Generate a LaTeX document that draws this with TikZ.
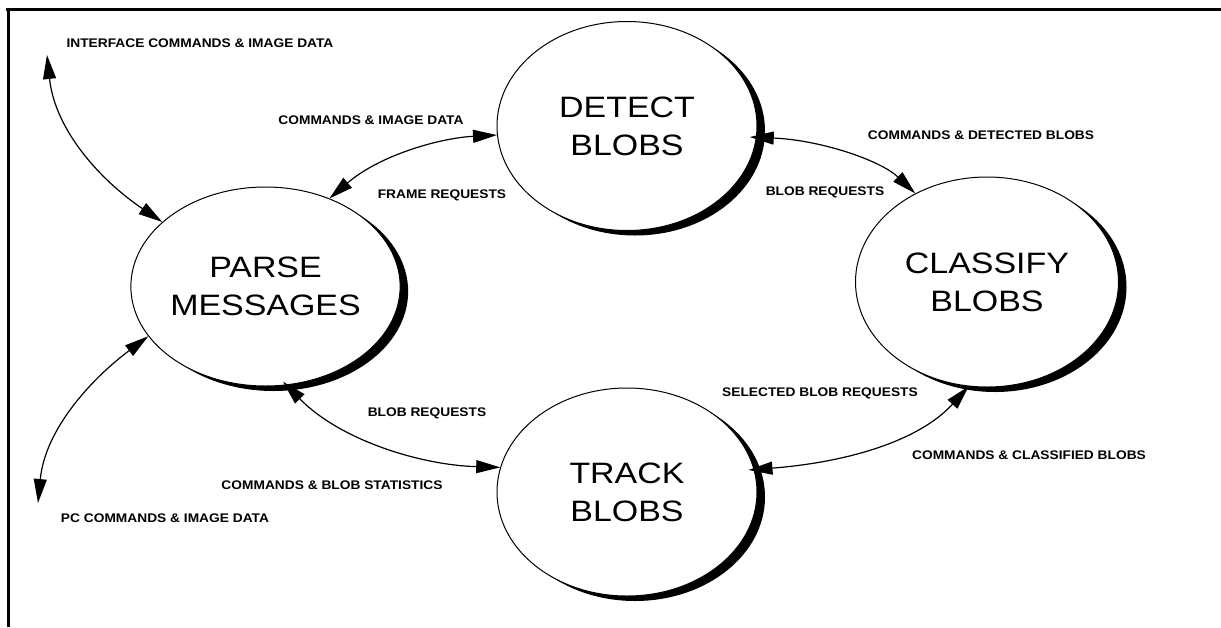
\documentclass[tikz,border=0pt]{standalone}
\usepackage{fontspec}
\setmainfont{Liberation Sans}
\newfontfamily\bubblefont[FakeStretch=1.15]{Liberation Sans}
\newfontfamily\flowfont[FakeStretch=1.1]{Liberation Sans}
\usetikzlibrary{shapes.geometric,arrows.meta,shadows}
\begin{document}
\begin{tikzpicture}[x=1pt,y=-1pt,
  process/.style={ellipse, draw=black, line width=1pt, fill=white,
    inner sep=0pt, align=center,
    font=\bubblefont\fontsize{29.5}{38}\selectfont,
    drop shadow={shadow xshift=8pt, shadow yshift=-5pt, fill=black, opacity=1}},
  flow/.style={line width=1.2pt,
    {Triangle[length=24pt,width=13pt]}-{Triangle[length=24pt,width=13pt]}},
  lbl/.style={font=\flowfont\bfseries\fontsize{12.5}{14}\selectfont, inner sep=0pt},
  frame/.style={line width=3pt}
]
\useasboundingbox (0,0) rectangle (1221,627);

% outer frame (top and left edges)
\draw[frame] (6,9) -- (1221,9);
\draw[frame] (8,9) -- (8,627);

% processes
\node[process, minimum width=261pt, minimum height=199pt] (p) at (265.5,286.5) {PARSE\\MESSAGES};
\node[process, minimum width=260pt, minimum height=209pt] (d) at (627,126) {DETECT\\BLOBS};
\node[process, minimum width=263pt, minimum height=210pt] (c) at (987,282) {CLASSIFY\\BLOBS};
\node[process, minimum width=260pt, minimum height=208pt] (t) at (627,492) {TRACK\\BLOBS};

% external ends
\coordinate (ifc) at (47,55);
\coordinate (pcx) at (38,503);

% data flows
\draw[flow] (ifc) .. controls (55,130) and (100,180) .. (p.148);
\draw[flow] (p.203) .. controls (90,380) and (45,430) .. (pcx);
\draw[flow] (p.54) .. controls (380,155) and (440,138) .. (d.184);
\draw[flow, shorten <=-7pt] (d.-5) .. controls (820,140) and (880,160) .. (c.129);
\draw[flow, shorten <=-5pt] (p.-78) .. controls (340,440) and (420,465) .. (t.169);
\draw[flow, shorten <=-6pt] (t.10) .. controls (850,462) and (920,440) .. (c.-100);

% flow labels
\node[lbl] (l1) at (200,43) {INTERFACE COMMANDS \& IMAGE DATA};
\node[lbl] (l2) at (371,120) {COMMANDS \& IMAGE DATA};
\node[lbl] (l3) at (442,195) {FRAME REQUESTS};
\node[lbl] (l4) at (981,135) {COMMANDS \& DETECTED BLOBS};
\node[lbl] (l5) at (825,192) {BLOB REQUESTS};
\node[lbl] (l6) at (427,413) {BLOB REQUESTS};
\node[lbl] (l7) at (332,485) {COMMANDS \& BLOB STATISTICS};
\node[lbl] (l8) at (165,518) {PC COMMANDS \& IMAGE DATA};
\node[lbl] (l9) at (820,393) {SELECTED BLOB REQUESTS};
\node[lbl] (l10) at (1029,455) {COMMANDS \& CLASSIFIED BLOBS};
\end{tikzpicture}
\end{document}
